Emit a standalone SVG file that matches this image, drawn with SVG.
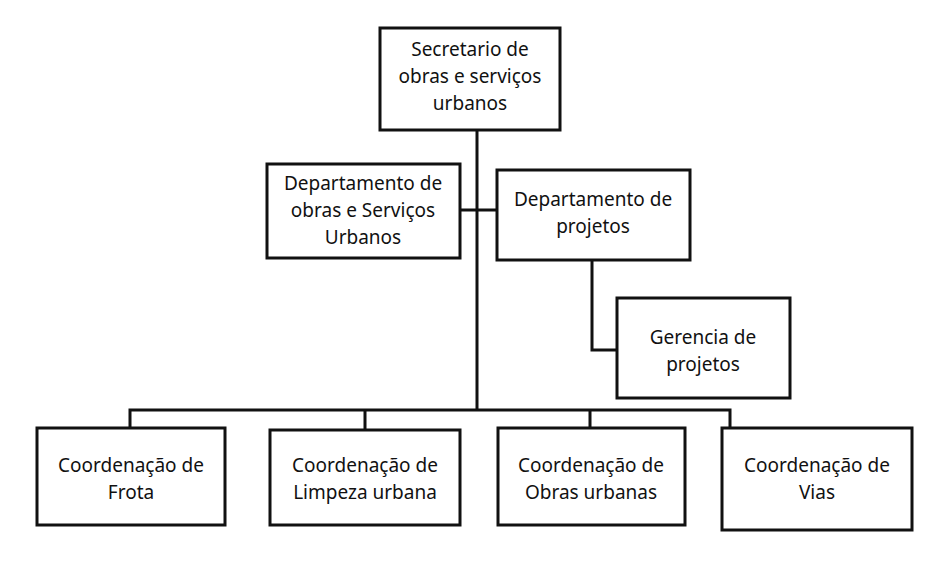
<svg xmlns="http://www.w3.org/2000/svg" width="948" height="568" viewBox="0 0 948 568">
<style>
.b{fill:#fff;stroke:#111;stroke-width:3}
.l{stroke:#111;stroke-width:3;fill:none}
text{font-family:"Noto Sans","Open Sans",sans-serif;font-size:19px;fill:#111;text-anchor:middle}
</style>
<rect width="948" height="568" fill="#fff"/>
<g id="connectors">
<path class="l" d="M477 130V410M460 210H497M592 260V350H617M130 428V410H730V428M365 410V430M590 410V428"/>
</g>
<g id="n1"><rect class="b" x="380" y="28" width="180" height="102"/><text x="470" y="56">Secretario de</text><text x="470" y="83">obras e serviços</text><text x="470" y="110">urbanos</text></g>
<g id="n2"><rect class="b" x="267" y="164" width="193" height="94"/><text x="363" y="190">Departamento de</text><text x="363" y="217">obras e Serviços</text><text x="363" y="244">Urbanos</text></g>
<g id="n3"><rect class="b" x="497" y="170" width="193" height="90"/><text x="593" y="206">Departamento de</text><text x="593" y="233">projetos</text></g>
<g id="n4"><rect class="b" x="617" y="298" width="173" height="100"/><text x="703" y="344">Gerencia de</text><text x="703" y="371">projetos</text></g>
<g id="n5"><rect class="b" x="37" y="428" width="188" height="97"/><text x="131" y="472">Coordenação de</text><text x="131" y="499">Frota</text></g>
<g id="n6"><rect class="b" x="270" y="430" width="190" height="95"/><text x="365" y="472">Coordenação de</text><text x="365" y="499">Limpeza urbana</text></g>
<g id="n7"><rect class="b" x="498" y="428" width="187" height="97"/><text x="591" y="472">Coordenação de</text><text x="591" y="499">Obras urbanas</text></g>
<g id="n8"><rect class="b" x="722" y="428" width="190" height="102"/><text x="817" y="472">Coordenação de</text><text x="817" y="499">Vias</text></g>
</svg>
